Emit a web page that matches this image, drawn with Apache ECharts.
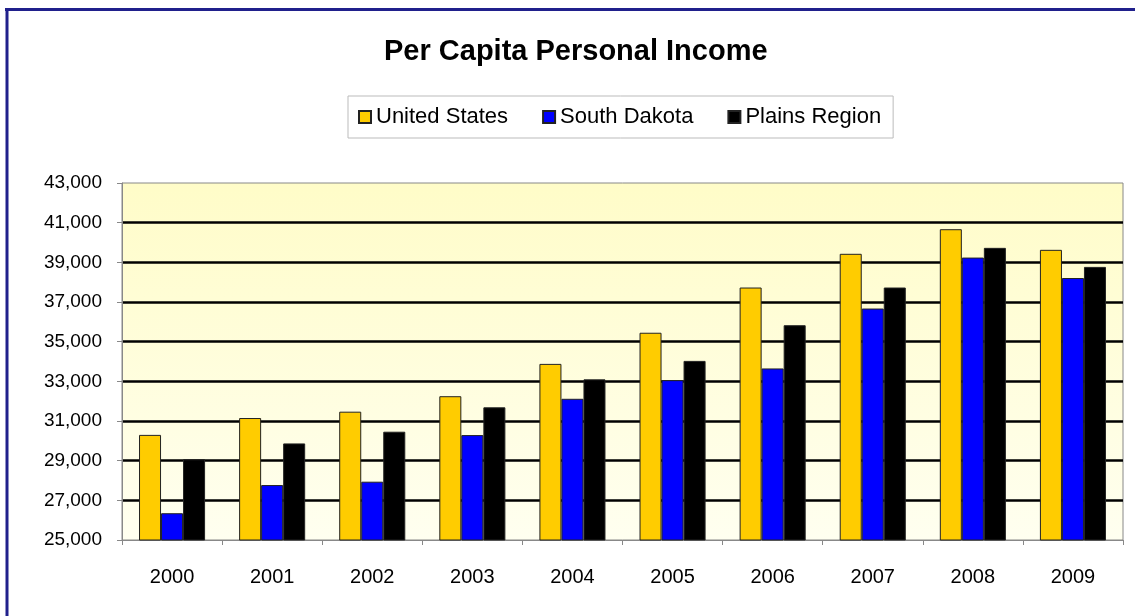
<!DOCTYPE html>
<html>
<head>
<meta charset="utf-8">
<title>Per Capita Personal Income</title>
<script src="https://cdn.jsdelivr.net/npm/echarts@6/dist/echarts.min.js"></script>
<style>
  html, body { margin: 0; padding: 0; background: #fff; }
  #chart { width: 1135px; height: 616px; }
</style>
</head>
<body>
<div id="chart"></div>
<script>
// 年份（横轴）
var years = ['2000', '2001', '2002', '2003', '2004', '2005', '2006', '2007', '2008', '2009'];
// 三组人均收入数据
var unitedStates = [30300, 31150, 31470, 32250, 33880, 35450, 37730, 39430, 40670, 39630];
var southDakota = [26350, 27770, 27940, 30290, 32120, 33060, 33650, 36670, 39240, 38210];
var plainsRegion = [29070, 29870, 30460, 31690, 33100, 34030, 35830, 37730, 39730, 38770];
// 纵轴刻度
var yTicks = [25000, 27000, 29000, 31000, 33000, 35000, 37000, 39000, 41000, 43000];

var myChart = echarts.init(document.getElementById('chart'));

function barSeries(name, color, data) {
  return {
    name: name,
    type: 'bar',
    barGap: '0%',
    barCategoryGap: '34%',
    itemStyle: { color: color, borderColor: '#222', borderWidth: 1 },
    data: data
  };
}

myChart.setOption({
  animation: false,
  textStyle: { fontFamily: 'Liberation Sans, Arial, sans-serif' },
  // 标题
  title: {
    text: 'Per Capita Personal Income',
    left: 384,
    top: 37,
    padding: 0,
    textStyle: { fontSize: 29, fontWeight: 'bold', color: '#000' }
  },
  // 图例，白底灰框
  legend: {
    left: 348,
    top: 96,
    padding: [10, 12, 10, 10],
    itemGap: 34,
    itemWidth: 12,
    itemHeight: 12,
    icon: 'rect',
    backgroundColor: '#fff',
    borderColor: '#bbb',
    borderWidth: 1,
    textStyle: { fontSize: 22, color: '#000' },
    data: ['United States', 'South Dakota', 'Plains Region']
  },
  // 外框的蓝色边线
  graphic: [
    { type: 'line', shape: { x1: 5, y1: 9.5, x2: 1135, y2: 9.5 }, style: { stroke: '#20208c', lineWidth: 3 } },
    { type: 'line', shape: { x1: 7, y1: 8, x2: 7, y2: 616 }, style: { stroke: '#20208c', lineWidth: 3 } }
  ],
  grid: {
    left: 122,
    right: 12,
    top: 183,
    bottom: 76,
    show: true,
    borderColor: '#888',
    borderWidth: 1,
    backgroundColor: new echarts.graphic.LinearGradient(0, 0, 0, 1, [
      { offset: 0, color: '#fffcc8' },
      { offset: 1, color: '#fffff0' }
    ])
  },
  xAxis: {
    type: 'category',
    data: years,
    axisLine: { lineStyle: { color: '#888' } },
    axisTick: { show: true, length: 5, lineStyle: { color: '#888' } },
    axisLabel: { fontSize: 20, color: '#000', margin: 27 }
  },
  yAxis: {
    type: 'value',
    min: 25000,
    max: 43000,
    axisLine: { show: true, lineStyle: { color: '#888' } },
    axisTick: { show: true, length: 5, lineStyle: { color: '#888' }, customValues: yTicks },
    axisLabel: {
      fontSize: 19,
      color: '#000',
      margin: 20,
      customValues: yTicks,
      formatter: function (v) { return v.toLocaleString('en-US'); }
    },
    // 网格线为黑色粗线
    splitLine: {
      show: true,
      showMinLine: false,
      showMaxLine: false,
      lineStyle: { color: '#000', width: 2.5 }
    }
  },
  series: [
    barSeries('United States', '#ffcc00', unitedStates),
    barSeries('South Dakota', '#0000ff', southDakota),
    barSeries('Plains Region', '#000000', plainsRegion)
  ]
});
</script>
</body>
</html>
